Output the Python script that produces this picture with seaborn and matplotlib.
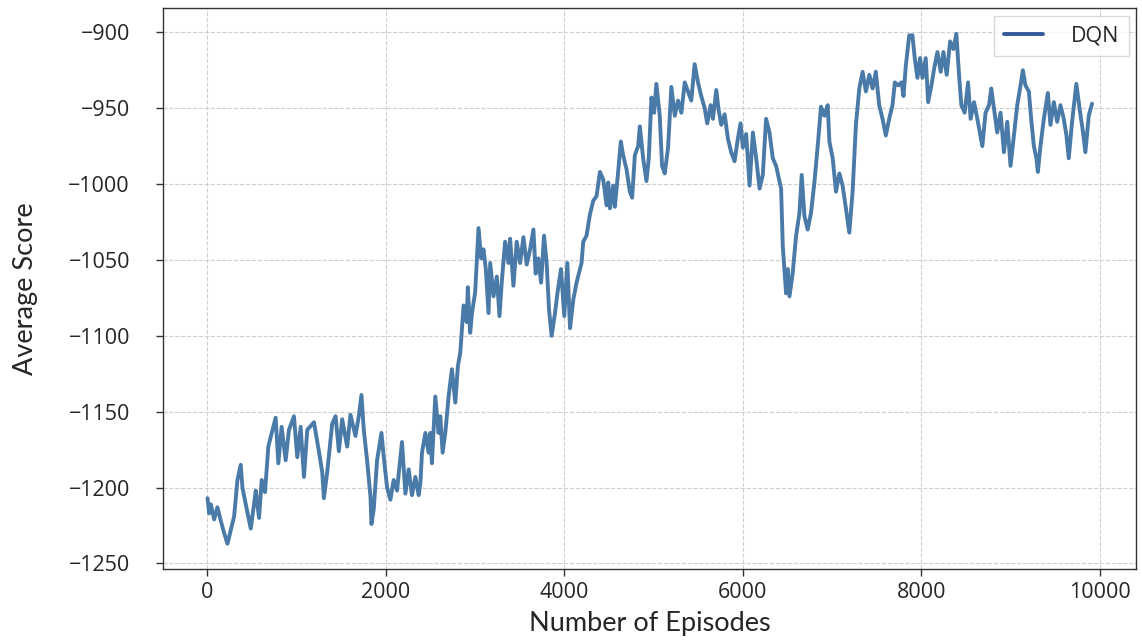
import matplotlib
matplotlib.use("Agg")
import matplotlib.pyplot as plt
import seaborn as sns
import pandas as pd

# Running average score of the DQN agent per training episode
episodes = [
    4, 22, 41, 78, 115, 153, 190, 227, 264, 302, 339, 376, 395, 432, 488, 525, 544, 581, 611, 648,
    685, 723, 767, 797, 834, 879, 916, 972, 1009, 1047, 1084, 1121, 1196, 1251, 1289, 1307, 1344,
    1400, 1438, 1475, 1512, 1568, 1605, 1661, 1698, 1728, 1754, 1791, 1829, 1840, 1866, 1903, 1952,
    1978, 2015, 2052, 2089, 2127,
    2145, 2182, 2220, 2257, 2294, 2332, 2369, 2388, 2406, 2444, 2480, 2499, 2517, 2555, 2592, 2611,
    2637, 2667, 2704, 2741, 2779, 2808, 2835, 2872, 2908, 2919, 2946, 2964, 3002, 3039, 3069, 3095,
    3121, 3151, 3170, 3207, 3244, 3274, 3299, 3337, 3374, 3393, 3430, 3467, 3505, 3542, 3579, 3617,
    3654, 3679, 3709, 3740, 3773, 3802, 3829, 3858, 3896, 3925, 3963, 4000, 4034, 4064, 4101, 4137,
    4193, 4212, 4249, 4287, 4324, 4361, 4399, 4436, 4473, 4492, 4511, 4547, 4566, 4603, 4633, 4659,
    4696, 4734, 4760, 4790, 4827, 4846, 4883, 4920, 4946, 4976, 5006, 5031, 5069, 5095, 5125, 5162,
    5199, 5237, 5274, 5311, 5349, 5385, 5422, 5460, 5497, 5534, 5572, 5601, 5639, 5665, 5702, 5728,
    5758, 5796, 5832, 5869, 5907, 5944, 5974, 6000, 6037, 6075, 6112, 6149, 6187, 6223, 6260, 6298,
    6335, 6372,
    6428, 6447, 6484, 6503, 6522, 6559, 6596, 6634, 6659, 6689, 6726, 6763, 6801, 6838, 6875, 6913,
    6950, 6969, 7006, 7043, 7081, 7117, 7154, 7192, 7229, 7266, 7304, 7341, 7378, 7416, 7453, 7489,
    7527, 7564, 7601, 7639, 7676, 7702, 7740, 7777, 7799, 7825, 7863, 7899, 7925, 7955, 7985, 8011,
    8048, 8075, 8112, 8142, 8179, 8216, 8246, 8283, 8321, 8358, 8391, 8421, 8447, 8484, 8522, 8551,
    8589,
    8626, 8682, 8718, 8757, 8782, 8819, 8849, 8886, 8924, 8961, 8998, 9036, 9073, 9110, 9136, 9165,
    9203, 9229, 9259, 9288, 9304, 9333, 9371, 9416, 9445, 9483, 9520, 9557, 9594, 9624, 9650, 9687,
    9735, 9773, 9810, 9836, 9874, 9911,
]

avg_score = [
    -1207, -1217, -1211, -1221, -1213, -1222, -1230, -1237, -1228, -1219, -1195, -1185, -1200, -1211,
    -1227, -1211, -1202, -1220, -1195, -1203, -1173, -1164, -1154, -1184, -1160, -1182, -1162, -1153,
    -1180, -1160, -1193, -1162, -1157, -1176, -1190, -1207, -1190, -1158, -1153, -1176, -1155, -1173,
    -1152, -1166, -1153, -1139, -1162, -1182, -1206, -1224, -1214, -1182, -1164, -1180, -1200, -1208,
    -1195, -1202,
    -1191, -1170, -1204, -1188, -1205, -1193, -1205, -1197, -1177, -1164, -1177, -1164, -1184, -1140,
    -1164, -1153, -1177, -1164, -1140, -1122, -1144, -1120, -1111, -1080, -1091, -1068, -1098, -1086,
    -1071, -1029, -1049, -1043, -1056, -1085, -1052, -1074, -1061, -1087, -1065, -1038, -1052, -1036,
    -1067, -1038, -1052, -1035, -1053, -1043, -1030, -1059, -1049, -1065, -1034, -1052, -1083, -1100,
    -1085, -1071, -1056, -1087, -1052, -1095, -1076, -1065,
    -1052, -1038, -1034, -1020, -1011, -1008, -992, -997, -1014, -999, -1016, -1001, -1015, -992,
    -972, -981, -990, -1005, -1009, -981, -975, -962, -983, -998, -983, -943, -953, -934, -955, -988,
    -993, -976, -936, -955, -945, -953, -933, -939, -945, -921, -933, -942, -950, -960, -948, -957,
    -938, -951, -961, -954, -970, -979, -985, -970, -960, -976, -967, -1001, -966, -983, -1003, -994,
    -957, -966, -983, -988,
    -1003, -1041, -1072, -1056, -1074, -1058, -1034, -1019, -994, -1021, -1030, -1019, -999, -975,
    -949, -955, -948, -972, -983, -1005, -993, -1001, -1016, -1032, -1005, -961, -937, -926, -939,
    -928, -937, -926, -948, -957, -968, -957, -948, -933, -935, -933, -942, -922, -902, -902, -917,
    -930, -917, -930, -917, -946, -935, -924, -913, -926, -913, -928, -906, -911, -901, -928, -948,
    -953, -933, -957, -946,
    -957, -975, -953, -948, -937, -953, -966, -953, -979, -959, -988, -968, -948, -935, -925, -935,
    -939, -957, -975, -983, -992, -975, -957, -940, -961, -946, -959, -948, -957, -968, -983, -959,
    -934, -951, -966, -979, -955, -947,
]

x_ticks = [0, 2000, 4000, 6000, 8000, 10000]
y_ticks = [-1250, -1200, -1150, -1100, -1050, -1000, -950, -900]
series_name = "DQN"

df = pd.DataFrame({"Number of Episodes": episodes, "Average Score": avg_score, "Agent": series_name})

sns.set_theme(style="white")
plt.rcParams["font.family"] = ["Open Sans", "DejaVu Sans"]

fig, ax = plt.subplots(figsize=(11.42, 6.41), dpi=100)
fig.subplots_adjust(left=0.143, right=0.995, top=0.987, bottom=0.112)

line_color = "#4a7aa8"
sns.lineplot(data=df, x="Number of Episodes", y="Average Score", hue="Agent",
             palette=[line_color], linewidth=2.8, ax=ax, legend=True)

ax.set_xticks(x_ticks)
ax.set_yticks(y_ticks)
ax.set_yticklabels([f"\u2212{abs(v)}" for v in y_ticks])
ax.tick_params(axis="both", labelsize=15.5, length=5, width=1, color="#333333",
               direction="out", bottom=True, left=True)
ax.tick_params(axis="x", pad=4)
ax.tick_params(axis="y", pad=19)

ax.grid(True, linestyle="--", color="#cfcfcf", linewidth=0.8)
for sp in ax.spines.values():
    sp.set_visible(True)
    sp.set_color("#333333")
    sp.set_linewidth(1.0)

ax.set_xlabel("Number of Episodes", fontsize=19.5, family=["Lato", "DejaVu Sans"], labelpad=6)
ax.set_ylabel("Average Score", fontsize=19.5, family=["Lato", "DejaVu Sans"], labelpad=22)

leg = ax.legend(loc="upper right", fontsize=15.5, frameon=True, fancybox=False,
                handlelength=1.8, handletextpad=1.3, borderpad=0.45, borderaxespad=0.35,
                edgecolor="#d0d0d0")
for h in leg.get_lines():
    h.set_color("#34589a")
    h.set_linewidth(2.8)
leg.get_frame().set_linewidth(1.0)

fig.savefig("out.png", dpi=100)
